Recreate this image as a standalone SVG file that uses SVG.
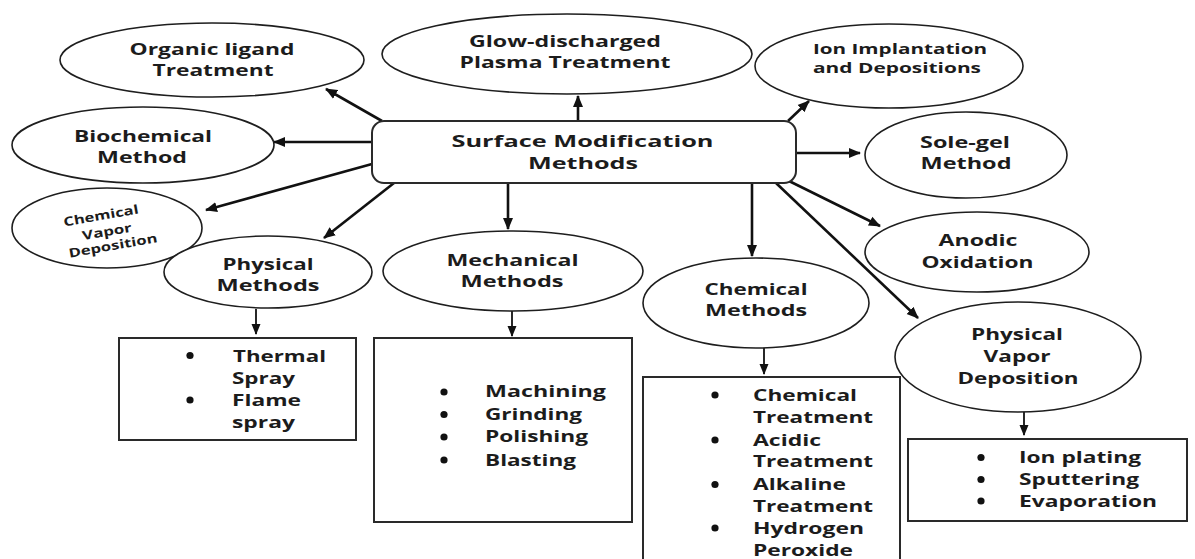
<svg xmlns="http://www.w3.org/2000/svg" width="1195" height="559" viewBox="0 0 1195 559">
<style>
.bg{fill:#fff}
.ell{fill:#fff;stroke:#1e1e1e;stroke-width:1.6}
.box{fill:#fff;stroke:#2a2a2a;stroke-width:2}
.t{font-family:"Open Sans","Liberation Sans",sans-serif;font-weight:700;font-size:16.5px;fill:#1c1c1c;text-anchor:middle}
.l{font-family:"Open Sans","Liberation Sans",sans-serif;font-weight:700;font-size:16.5px;fill:#1c1c1c}
.s{font-family:"Open Sans","Liberation Sans",sans-serif;font-weight:700;font-size:12.5px;fill:#1c1c1c;text-anchor:middle}
.a{fill:none;stroke:#111;stroke-width:2.6}
.as{fill:none;stroke:#111;stroke-width:1.8}
.dot{fill:#111}
</style>
<defs>
<marker id="ah" markerUnits="userSpaceOnUse" markerWidth="12" markerHeight="12" viewBox="0 0 12 12" refX="11" refY="6" orient="auto">
<path d="M0,1 L12,6 L0,11 Z" fill="#111"/>
</marker>
<marker id="ahs" markerUnits="userSpaceOnUse" markerWidth="11" markerHeight="11" viewBox="0 0 11 11" refX="10" refY="5.5" orient="auto">
<path d="M0,1 L11,5.5 L0,10 Z" fill="#111"/>
</marker>
</defs>
<rect class="bg" x="0" y="0" width="1195" height="559"/>

<g id="connectors">
<line class="a" x1="382" y1="121" x2="326" y2="89" marker-end="url(#ah)"/>
<line class="a" x1="578" y1="121" x2="578" y2="96" marker-end="url(#ah)"/>
<line class="a" x1="788" y1="121" x2="809" y2="101" marker-end="url(#ah)"/>
<line class="a" x1="372" y1="142" x2="274" y2="142" marker-end="url(#ah)"/>
<line class="a" x1="796" y1="153" x2="860" y2="153" marker-end="url(#ah)"/>
<line class="a" x1="372" y1="164" x2="206" y2="210" marker-end="url(#ah)"/>
<line class="a" x1="394" y1="183" x2="324" y2="238" marker-end="url(#ah)"/>
<line class="a" x1="508" y1="183" x2="508" y2="229" marker-end="url(#ah)"/>
<line class="a" x1="752" y1="183" x2="752" y2="256" marker-end="url(#ah)"/>
<line class="a" x1="789" y1="181" x2="880" y2="226" marker-end="url(#ah)"/>
<line class="a" x1="776" y1="183" x2="918" y2="318" marker-end="url(#ah)"/>
<line class="as" x1="256" y1="309" x2="256" y2="334" marker-end="url(#ahs)"/>
<line class="as" x1="512" y1="311" x2="512" y2="336" marker-end="url(#ahs)"/>
<line class="as" x1="764" y1="348" x2="764" y2="374" marker-end="url(#ahs)"/>
<line class="as" x1="1024" y1="412" x2="1024" y2="435" marker-end="url(#ahs)"/>
</g>

<g id="center">
<rect x="372" y="121" width="424" height="62" rx="12" class="box"/>
<text class="t" x="582.5" y="146.7" textLength="262" lengthAdjust="spacingAndGlyphs">Surface Modification</text>
<text class="t" x="583" y="169.3" textLength="110" lengthAdjust="spacingAndGlyphs">Methods</text>
</g>

<g id="organic">
<ellipse class="ell" cx="212" cy="60" rx="152" ry="37"/>
<text class="t" x="212" y="55" textLength="165" lengthAdjust="spacingAndGlyphs">Organic ligand</text>
<text class="t" x="213" y="76" textLength="121" lengthAdjust="spacingAndGlyphs">Treatment</text>
</g>

<g id="glow">
<ellipse class="ell" cx="567" cy="54" rx="185" ry="40"/>
<text class="t" x="565" y="47.3" textLength="192" lengthAdjust="spacingAndGlyphs">Glow-discharged</text>
<text class="t" x="565" y="68.3" textLength="211" lengthAdjust="spacingAndGlyphs">Plasma Treatment</text>
</g>

<g id="ion">
<ellipse class="ell" cx="889" cy="66" rx="134" ry="42"/>
<text class="t" x="900" y="53.5" style="font-size:15px" textLength="174" lengthAdjust="spacingAndGlyphs">Ion Implantation</text>
<text class="t" x="897" y="73" style="font-size:15px" textLength="168" lengthAdjust="spacingAndGlyphs">and Depositions</text>
</g>

<g id="biochemical">
<ellipse class="ell" cx="143" cy="145" rx="131" ry="38"/>
<text class="t" x="143" y="142" textLength="138" lengthAdjust="spacingAndGlyphs">Biochemical</text>
<text class="t" x="142" y="162.7" textLength="90" lengthAdjust="spacingAndGlyphs">Method</text>
</g>

<g id="solegel">
<ellipse class="ell" cx="966" cy="155" rx="101" ry="43"/>
<text class="t" x="965" y="148.3" textLength="90" lengthAdjust="spacingAndGlyphs">Sole-gel</text>
<text class="t" x="966" y="169" textLength="91" lengthAdjust="spacingAndGlyphs">Method</text>
</g>

<g id="cvd">
<ellipse class="ell" cx="107" cy="228" rx="95" ry="40"/>
<text class="s" x="101" y="220" transform="rotate(-10 101 216)" textLength="76" lengthAdjust="spacingAndGlyphs">Chemical</text>
<text class="s" x="107" y="236" transform="rotate(-10 107 232)" textLength="50" lengthAdjust="spacingAndGlyphs">Vapor</text>
<text class="s" x="113" y="250" transform="rotate(-10 113 246)" textLength="90" lengthAdjust="spacingAndGlyphs">Deposition</text>
</g>

<g id="physical">
<ellipse class="ell" cx="268" cy="272" rx="104" ry="36"/>
<text class="t" x="268" y="270" textLength="91" lengthAdjust="spacingAndGlyphs">Physical</text>
<text class="t" x="268" y="291" textLength="103" lengthAdjust="spacingAndGlyphs">Methods</text>
</g>

<g id="mechanical">
<ellipse class="ell" cx="513" cy="271" rx="130" ry="40"/>
<text class="t" x="512.5" y="266" textLength="132" lengthAdjust="spacingAndGlyphs">Mechanical</text>
<text class="t" x="512" y="286.7" textLength="103" lengthAdjust="spacingAndGlyphs">Methods</text>
</g>

<g id="chemical">
<ellipse class="ell" cx="756" cy="303" rx="113" ry="45"/>
<text class="t" x="756" y="295" textLength="103" lengthAdjust="spacingAndGlyphs">Chemical</text>
<text class="t" x="756" y="316" textLength="102" lengthAdjust="spacingAndGlyphs">Methods</text>
</g>

<g id="anodic">
<ellipse class="ell" cx="977" cy="252" rx="112" ry="40"/>
<text class="t" x="978" y="246" textLength="79" lengthAdjust="spacingAndGlyphs">Anodic</text>
<text class="t" x="977.5" y="267.7" textLength="112" lengthAdjust="spacingAndGlyphs">Oxidation</text>
</g>

<g id="pvd">
<ellipse class="ell" cx="1018" cy="357" rx="123" ry="55"/>
<text class="t" x="1017" y="340" textLength="92" lengthAdjust="spacingAndGlyphs">Physical</text>
<text class="t" x="1017" y="361.7" textLength="67" lengthAdjust="spacingAndGlyphs">Vapor</text>
<text class="t" x="1018" y="384" textLength="121" lengthAdjust="spacingAndGlyphs">Deposition</text>
</g>

<g id="physical-list">
<rect class="box" x="119" y="338" width="237" height="102"/>
<circle class="dot" cx="190" cy="355.5" r="3.6"/>
<circle class="dot" cx="190" cy="400" r="3.6"/>
<text class="l" x="233" y="361.7" textLength="93" lengthAdjust="spacingAndGlyphs">Thermal</text>
<text class="l" x="232" y="384" textLength="63" lengthAdjust="spacingAndGlyphs">Spray</text>
<text class="l" x="232" y="406" textLength="69" lengthAdjust="spacingAndGlyphs">Flame</text>
<text class="l" x="232" y="428" textLength="63" lengthAdjust="spacingAndGlyphs">spray</text>
</g>

<g id="mechanical-list">
<rect class="box" x="374" y="338" width="258" height="184"/>
<circle class="dot" cx="444" cy="392" r="3.6"/>
<circle class="dot" cx="444" cy="414.5" r="3.6"/>
<circle class="dot" cx="444" cy="437" r="3.6"/>
<circle class="dot" cx="444" cy="460" r="3.6"/>
<text class="l" x="485" y="397.3" textLength="121" lengthAdjust="spacingAndGlyphs">Machining</text>
<text class="l" x="485" y="420" textLength="97" lengthAdjust="spacingAndGlyphs">Grinding</text>
<text class="l" x="485" y="442.3" textLength="103" lengthAdjust="spacingAndGlyphs">Polishing</text>
<text class="l" x="485" y="465.7" textLength="91" lengthAdjust="spacingAndGlyphs">Blasting</text>
</g>

<g id="chemical-list">
<rect class="box" x="643" y="377" width="257" height="200"/>
<circle class="dot" cx="715" cy="395" r="3.6"/>
<circle class="dot" cx="715" cy="440" r="3.6"/>
<circle class="dot" cx="715" cy="484.5" r="3.6"/>
<circle class="dot" cx="715" cy="528" r="3.6"/>
<text class="l" x="753" y="400.7" textLength="104" lengthAdjust="spacingAndGlyphs">Chemical</text>
<text class="l" x="753" y="423" textLength="120" lengthAdjust="spacingAndGlyphs">Treatment</text>
<text class="l" x="753" y="445.5" textLength="68" lengthAdjust="spacingAndGlyphs">Acidic</text>
<text class="l" x="753" y="467.3" textLength="120" lengthAdjust="spacingAndGlyphs">Treatment</text>
<text class="l" x="753" y="490" textLength="93" lengthAdjust="spacingAndGlyphs">Alkaline</text>
<text class="l" x="753" y="512" textLength="120" lengthAdjust="spacingAndGlyphs">Treatment</text>
<text class="l" x="753" y="533.5" textLength="111" lengthAdjust="spacingAndGlyphs">Hydrogen</text>
<text class="l" x="753" y="555.5" textLength="100" lengthAdjust="spacingAndGlyphs">Peroxide</text>
</g>

<g id="pvd-list">
<rect class="box" x="908" y="439" width="279" height="82"/>
<circle class="dot" cx="981" cy="457.5" r="3.6"/>
<circle class="dot" cx="981" cy="479.5" r="3.6"/>
<circle class="dot" cx="981" cy="501" r="3.6"/>
<text class="l" x="1019" y="463.3" textLength="122" lengthAdjust="spacingAndGlyphs">Ion plating</text>
<text class="l" x="1019" y="485" textLength="120" lengthAdjust="spacingAndGlyphs">Sputtering</text>
<text class="l" x="1019" y="506.7" textLength="138" lengthAdjust="spacingAndGlyphs">Evaporation</text>
</g>
</svg>
